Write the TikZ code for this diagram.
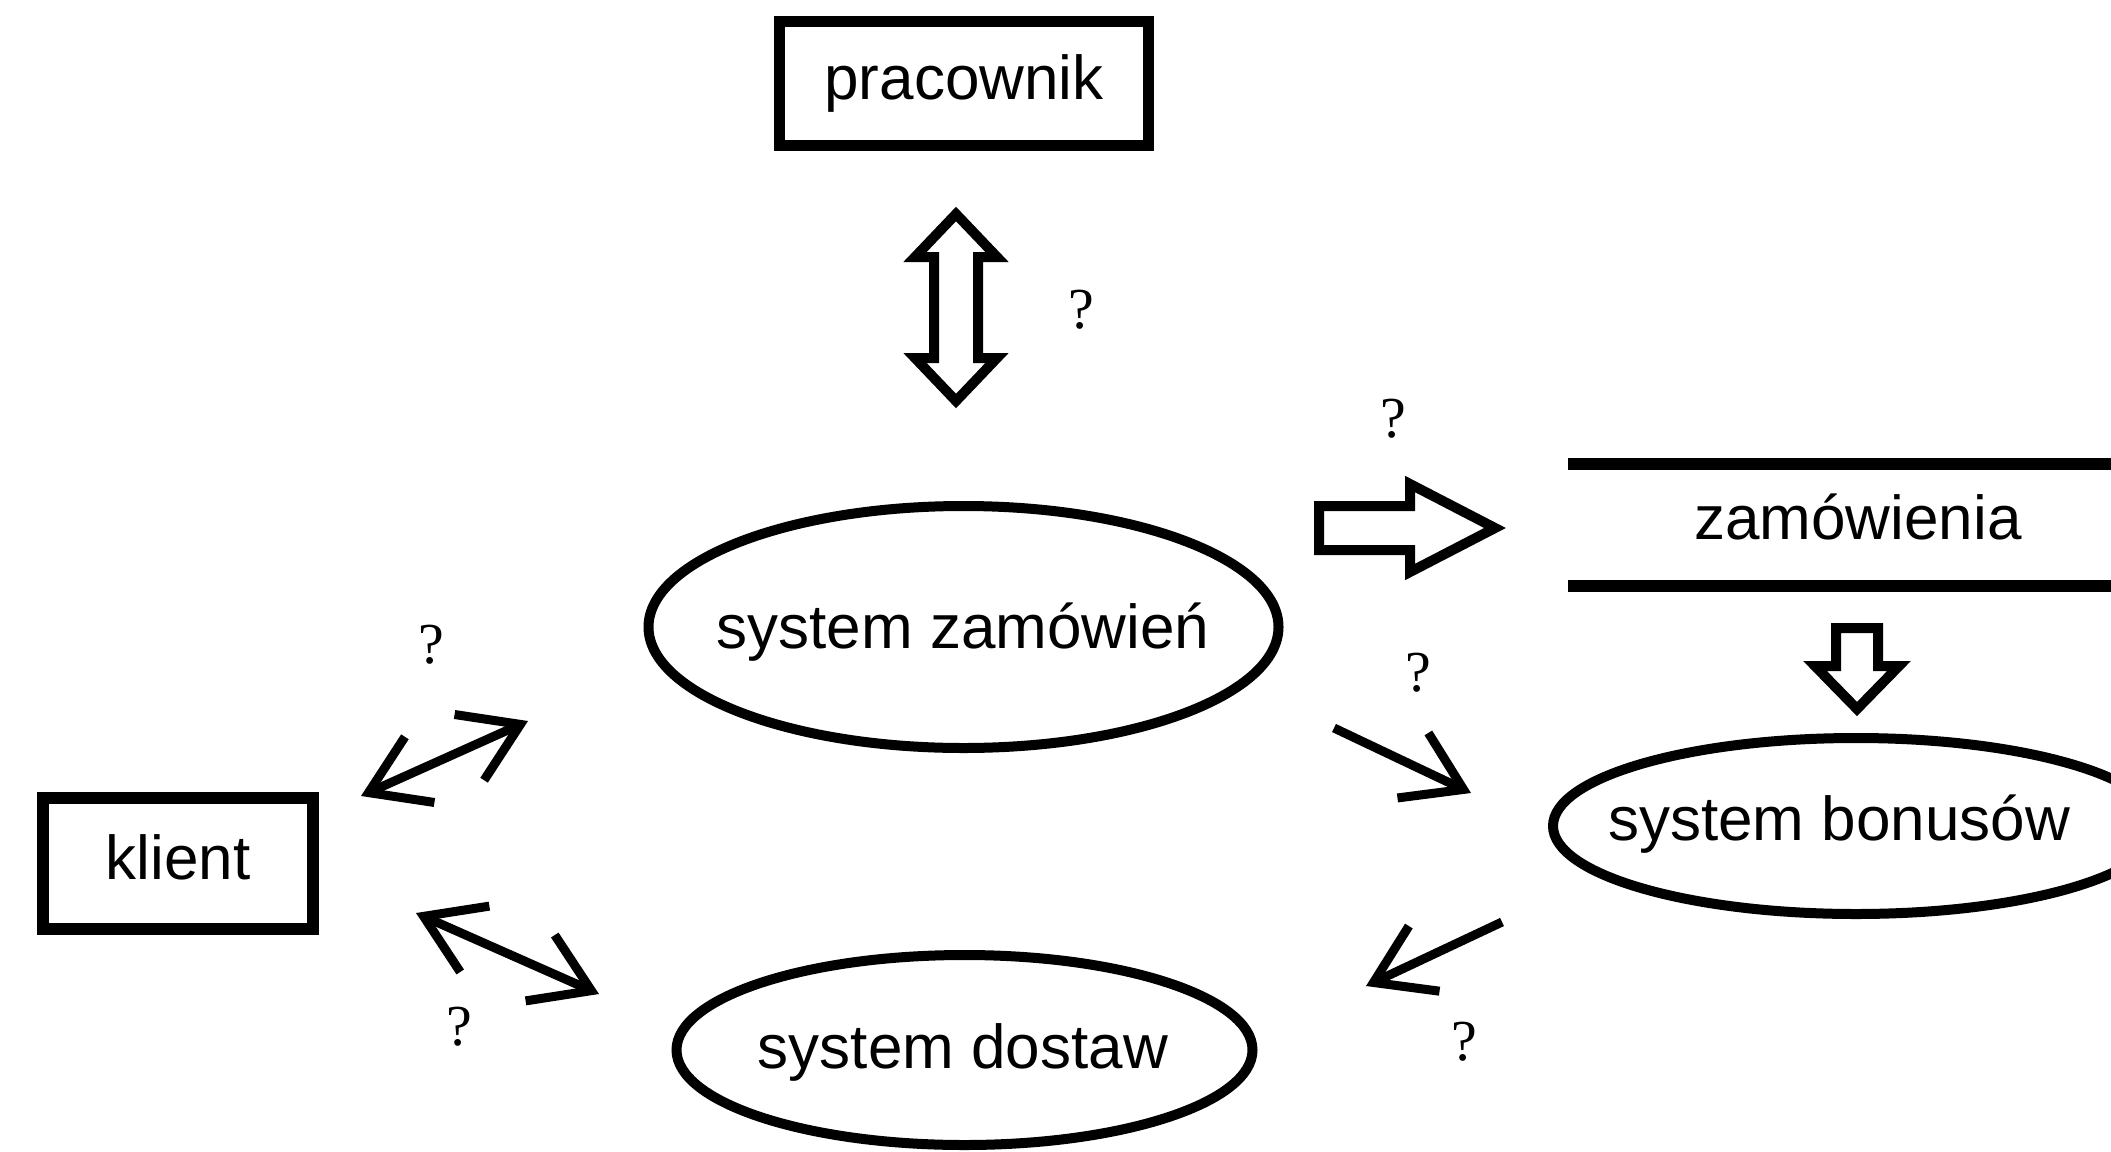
\documentclass[tikz,border=0pt]{standalone}
\usepackage{fontspec}
\setmainfont{Liberation Sans}
\newfontfamily\qfont{Liberation Serif}
\usetikzlibrary{shapes.geometric,arrows.meta}
\begin{document}
\begin{tikzpicture}[x=1pt,y=-1pt,
  every node/.style={inner sep=0pt},
  txt/.style={font=\fontsize{62}{70}\selectfont},
  boxnode/.style={txt, draw, line width=11pt, rectangle, text height=46pt, text depth=14pt},
  ellnode/.style={draw, line width=10pt, ellipse},
  qmark/.style={font=\qfont\fontsize{58}{60}\selectfont},
  thinarrow/.style={line width=9pt, -{Straight Barb[length=56pt,width=72pt]}},
  thinboth/.style={line width=9pt, {Straight Barb[length=56pt,width=72pt]}-{Straight Barb[length=56pt,width=72pt]}},
  blockarrow/.style={line width=10pt, line join=miter, fill=white},
  storeline/.style={line width=12pt}
]
\useasboundingbox[fill=white] (0,0) rectangle (2111,1151);

% nodes
\node[boxnode, minimum width=369pt, minimum height=124pt] (prac) at (964,83.5) {pracownik};
\node[boxnode, line width=12pt, minimum width=270pt, minimum height=131pt] (klient) at (178,863.5) {klient};

\node[ellnode, minimum width=630pt, minimum height=242pt] (szam) at (963.5,627) {};
\node[txt, anchor=base] (szamt) at (963,648) {system zamówień};

\node[ellnode, minimum width=576pt, minimum height=190pt] (sdos) at (964.5,1050) {};
\node[txt, anchor=base] (sdost) at (963,1068) {system dostaw};

\node[ellnode, minimum width=606pt, minimum height=176pt] (sbon) at (1856,826) {};
\node[txt, anchor=base] (sbont) at (1839,840) {system bonusów};

\node[txt, anchor=base] (zam) at (1858,539) {zamówienia};
\draw[storeline] (1568,464) -- (2125,464);
\draw[storeline] (1568,586) -- (2125,586);

% block arrows
\draw[blockarrow] (956,214) -- (997,257) -- (978,257) -- (978,358) -- (997,358) -- (956,401)
  -- (915,358) -- (934,358) -- (934,257) -- (915,257) -- cycle;
\draw[blockarrow] (1319,506) -- (1410,506) -- (1410,484) -- (1495,528) -- (1410,572)
  -- (1410,550) -- (1319,550) -- cycle;
\draw[blockarrow] (1836,628) -- (1878,628) -- (1878,666) -- (1899,666) -- (1857,709)
  -- (1815,666) -- (1836,666) -- cycle;

% thin arrows
\coordinate (a1s) at (361,796);
\coordinate (a1e) at (528,721);
\coordinate (a2s) at (416,913);
\coordinate (a2e) at (599,994);
\coordinate (a3s) at (1334,728);
\coordinate (a3e) at (1471,793);
\coordinate (a4s) at (1502,922);
\coordinate (a4e) at (1366,986);
\draw[thinboth] (a1s) -- (a1e);
\draw[thinboth] (a2s) -- (a2e);
\draw[thinarrow] (a3s) -- (a3e);
\draw[thinarrow] (a4s) -- (a4e);

% question marks
\node[qmark] (q1) at (1081,310) {?};
\node[qmark] (q2) at (1393,419) {?};
\node[qmark] (q3) at (1418,673) {?};
\node[qmark] (q4) at (431,645) {?};
\node[qmark] (q5) at (459,1027) {?};
\node[qmark] (q6) at (1464,1042) {?};
\end{tikzpicture}
\end{document}
